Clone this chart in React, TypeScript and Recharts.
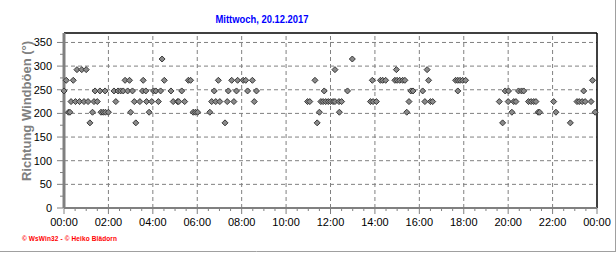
import React from 'react';
import { ScatterChart, Scatter, XAxis, YAxis, ReferenceLine } from 'recharts';

// gust direction (degrees, 16-point compass steps) and the minutes after 00:00 it was logged
const dirLevels = [180, 202.5, 225, 247.5, 270, 292.5, 315];
const times180 = [70, 194, 435, 684, 1185, 1368];
const times202 = [12, 16, 77, 100, 106, 112, 120, 180, 230, 349, 355, 361, 394, 690, 744, 926, 1210, 1281, 1285, 1329, 1435];
const times225 = [
  19, 31, 42, 54, 65, 81, 90, 140, 190, 205, 223, 237, 255, 295, 307, 310, 326, 399, 410, 421, 441, 459, 514,
  658, 664, 694, 700, 707, 714, 720, 727, 732, 743, 750, 828, 835, 844, 932, 975, 990, 996,
  1176, 1200, 1215, 1221, 1255, 1262, 1269, 1275, 1323, 1386, 1392, 1400, 1408, 1424,
];
const times247 = [
  0, 84, 97, 111, 135, 146, 153, 160, 172, 185, 212, 221, 242, 248, 261, 289, 318, 406, 444, 466, 496, 520,
  703, 766, 937, 943, 969, 1064, 1192, 1201, 1228, 1236, 1242, 1404,
];
const times270 = [
  6, 25, 165, 177, 214, 271, 336, 342, 417, 453, 469, 484, 491, 509, 678, 833, 855, 861, 869,
  894, 900, 907, 915, 921, 985, 1058, 1064, 1070, 1077, 1085, 1428,
];
const times292 = [35, 48, 60, 732, 898, 981];
const times315 = [265, 779];
const timesByLevel = [times180, times202, times225, times247, times270, times292, times315];

const hourLabels = ['00:00', '02:00', '04:00', '06:00', '08:00', '10:00', '12:00', '14:00', '16:00', '18:00', '20:00', '22:00', '00:00'];
const yGridValues = [50, 100, 150, 200, 250, 300, 350];
const xGridValues = [0, 120, 240, 360, 480, 600, 720, 840, 960, 1080, 1200, 1320];

const points = dirLevels.flatMap((dir, i) => timesByLevel[i].map((t) => ({ t, dir })));

const xTicks = Array.from({ length: 49 }, (_, i) => i * 30);
const yTicks = Array.from({ length: 15 }, (_, i) => i * 25);

const XTick = (props: any) => {
  const { x, y, payload } = props;
  const axisY = y - 8;
  const major = payload.value % 120 === 0;
  return (
    <g>
      <line x1={x} x2={x} y1={axisY} y2={axisY + (major ? 6 : 3)} stroke="#808080" />
      {major && (
        <text x={x} y={axisY + 18} textAnchor="middle" fontSize={11} fill="#000">
          {hourLabels[payload.value / 120]}
        </text>
      )}
    </g>
  );
};

const YTick = (props: any) => {
  const { x, y, payload } = props;
  const axisX = x + 12;
  const major = payload.value % 50 === 0;
  return (
    <g>
      <line x1={axisX - 1} x2={axisX - (major ? 7 : 4)} y1={y} y2={y} stroke="#808080" />
      {major && (
        <text x={x} y={y + 4} textAnchor="end" fontSize={11} fill="#000">
          {payload.value}
        </text>
      )}
    </g>
  );
};

const Diamond = (props: any) => {
  const { cx, cy } = props;
  const r = 3;
  return (
    <path
      d={`M${cx},${cy - r}L${cx + r},${cy}L${cx},${cy + r}L${cx - r},${cy}Z`}
      fill="#8a8a8a"
      stroke="#383838"
      strokeWidth={1}
    />
  );
};

export default function App() {
  return (
    <div style={{ position: 'relative', width: 616, height: 253, background: '#fff', fontFamily: '"Liberation Sans", Arial, sans-serif' }}>
      <style>{'body{margin:0}'}</style>
      <ScatterChart width={616} height={253} margin={{ top: 33, right: 19, bottom: 0, left: 0 }}>
        <XAxis
          type="number"
          dataKey="t"
          domain={[0, 1440]}
          ticks={xTicks}
          interval={0}
          tick={<XTick />}
          tickLine={false}
          tickSize={6}
          tickMargin={2}
          height={45}
          axisLine={{ stroke: '#808080', strokeWidth: 2 }}
        />
        <YAxis
          type="number"
          dataKey="dir"
          domain={[0, 370]}
          ticks={yTicks}
          interval={0}
          tick={<YTick />}
          tickLine={false}
          tickSize={6}
          tickMargin={6}
          width={64}
          axisLine={{ stroke: '#808080', strokeWidth: 3 }}
        />
        {yGridValues.map((v) => (
          <ReferenceLine key={'h' + v} y={v} stroke="#808080" strokeDasharray="4 3" />
        ))}
        {xGridValues.map((v) => (
          <ReferenceLine key={'v' + v} x={v} stroke="#808080" strokeDasharray="4 3" />
        ))}
        <ReferenceLine y={370} stroke="#000" strokeWidth={1.5} />
        <ReferenceLine x={1440} stroke="#000" strokeWidth={1.5} />
        <Scatter data={points} isAnimationActive={false} shape={<Diamond />} />
      </ScatterChart>
      <svg width={616} height={253} style={{ position: 'absolute', left: 0, top: 0, pointerEvents: 'none' }}>
        <text x={262} y={23} textAnchor="middle" fontSize={11} fontWeight="bold" fill="#0000ff" textLength={93} lengthAdjust="spacingAndGlyphs">
          Mittwoch, 20.12.2017
        </text>
        <text
          x={31}
          y={111}
          transform="rotate(-90 31 111)"
          textAnchor="middle"
          fontSize={13}
          fontWeight="bold"
          fill="#808080"
        >
          Richtung Windböen (°)
        </text>
        <text x={22} y={241} fontSize={6.5} fontWeight="bold" fill="#ff0000" textLength={95} lengthAdjust="spacing">
          © WsWin32 - © Heiko Blädorn
        </text>
        <line x1={0} x2={616} y1={251.5} y2={251.5} stroke="#a0a0a0" />
        <line x1={615.5} x2={615.5} y1={0} y2={252} stroke="#a0a0a0" />
      </svg>
    </div>
  );
}
